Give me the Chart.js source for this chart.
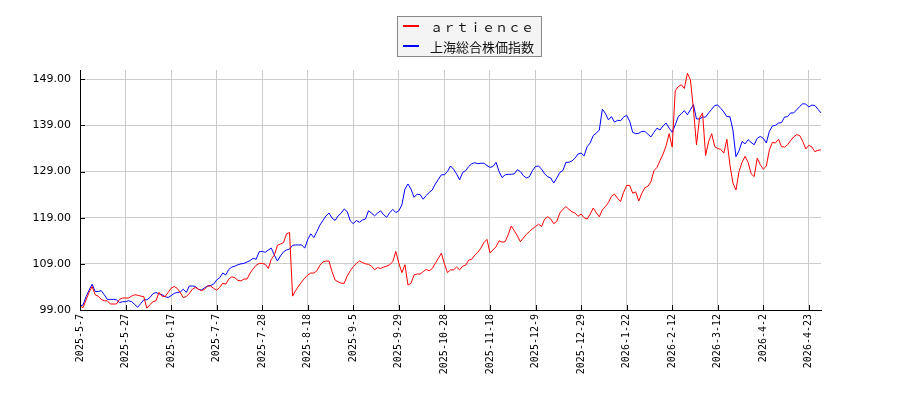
<!DOCTYPE html>
<html>
<head>
<meta charset="utf-8">
<title>artience vs 上海総合株価指数</title>
<script src="https://cdn.jsdelivr.net/npm/chart.js@4.4.1/dist/chart.umd.min.js"></script>
<style>
  html, body { margin: 0; padding: 0; background: #fff; }
  #wrap { width: 900px; height: 400px; }
</style>
</head>
<body>
<div id="wrap"><canvas id="chart" width="900" height="400"></canvas></div>
<script>
// series names (legend)
const seriesNames = ['ａｒｔｉｅｎｃｅ', '上海総合株価指数'];

// x tick labels, one every 15 trading days
const tickDates = ['2025-5-7', '2025-5-27', '2025-6-17', '2025-7-7', '2025-7-28', '2025-8-18',
    '2025-9-5', '2025-9-29', '2025-10-28', '2025-11-18', '2025-12-9', '2025-12-29',
    '2026-1-22', '2026-2-12', '2026-3-12', '2026-4-2', '2026-4-23'];
const tickEvery = 15;

// y axis ticks
const yTicks = [99, 109, 119, 129, 139, 149];

// artience (relative, start = 100)
const artience = [
    99.9, 99.5, 101.2, 102.8, 104.1, 102.3, 102.0, 101.3, 101.0, 101.0,
    100.3, 100.3, 100.3, 101.3, 101.6, 101.6, 101.6, 102.0, 102.3, 102.2,
    102.0, 101.9, 99.4, 100.1, 100.8, 101.0, 102.8, 102.0, 101.9, 102.8,
    103.7, 104.1, 103.7, 102.8, 101.7, 101.9, 102.6, 103.5, 103.9, 103.5,
    103.2, 103.5, 104.2, 104.2, 103.7, 103.3, 103.9, 104.8, 104.6, 105.7,
    106.2, 106.0, 105.4, 105.3, 105.7, 105.7, 107.0, 107.9, 108.7, 109.1,
    109.1, 108.9, 108.0, 110.0, 110.9, 113.0, 113.3, 113.6, 115.5, 115.8,
    102.0, 103.2, 104.2, 105.1, 105.9, 106.6, 107.0, 107.0, 107.5, 108.7,
    109.4, 109.6, 109.6, 107.3, 105.5, 105.1, 104.8, 104.8, 106.4, 107.5,
    108.4, 109.1, 109.6, 109.3, 109.0, 108.9, 108.5, 107.7, 108.2, 108.0,
    108.3, 108.5, 108.8, 109.5, 111.7, 109.1, 107.1, 108.8, 104.4, 104.8,
    106.6, 106.8, 106.8, 107.3, 107.8, 107.5, 108.0, 109.1, 110.2, 111.3,
    109.0, 107.1, 107.7, 107.7, 108.3, 107.7, 108.5, 108.7, 109.8, 110.0,
    110.9, 111.5, 112.4, 113.6, 114.3, 111.4, 112.0, 112.7, 114.0, 113.7,
    113.8, 115.3, 117.2, 116.2, 115.1, 113.8, 114.6, 115.4, 116.0, 116.6,
    117.1, 117.6, 117.1, 118.7, 119.2, 118.7, 117.7, 118.2, 120.0, 120.8,
    121.4, 120.8, 120.3, 120.0, 119.3, 119.8, 119.0, 118.7, 119.8, 121.1,
    120.1, 119.2, 120.7, 121.4, 122.3, 123.6, 124.1, 123.2, 122.5, 124.5,
    126.0, 126.0, 124.3, 124.6, 122.6, 124.3, 125.5, 125.8, 126.8, 129.2,
    129.9, 131.4, 132.8, 134.6, 137.2, 134.3, 146.5, 147.4, 147.8, 147.0,
    150.3, 148.9, 142.5, 134.8, 140.6, 141.7, 132.5, 135.5, 137.2, 134.4,
    134.0, 133.8, 133.0, 136.0, 130.5, 126.5, 125.0, 129.0, 131.0, 132.3,
    131.0, 128.5, 127.9, 131.9, 130.5, 129.5, 130.2, 133.7, 135.3, 135.2,
    136.0, 134.4, 134.3, 134.8, 135.7, 136.5, 137.0, 136.8, 135.5, 133.9,
    134.7, 134.3, 133.3, 133.6, 133.7
];

// Shanghai composite (relative, start = 100)
const shanghai = [
    99.9, 100.1, 101.9, 103.3, 104.6, 103.0, 103.0, 103.2, 102.3, 101.3,
    101.3, 101.3, 101.2, 100.6, 100.8, 100.8, 101.0, 100.8, 100.2, 99.6,
    100.4, 101.2, 101.2, 101.7, 102.5, 102.8, 102.5, 102.3, 101.9, 101.7,
    102.1, 102.6, 102.8, 102.9, 103.5, 102.8, 104.2, 104.2, 104.1, 103.5,
    103.3, 103.8, 104.2, 104.3, 104.6, 105.5, 106.0, 107.0, 106.6, 107.8,
    108.3, 108.5, 108.8, 109.0, 109.1, 109.4, 109.7, 110.2, 110.0, 111.6,
    111.7, 111.5, 112.0, 112.4, 110.9, 109.6, 110.7, 111.6, 112.0, 112.2,
    113.0, 113.1, 113.1, 113.1, 112.4, 114.3, 115.5, 114.7, 116.0, 117.4,
    118.4, 119.4, 120.0, 118.9, 118.4, 119.4, 120.0, 120.9, 120.3, 118.3,
    117.7, 118.4, 118.0, 118.5, 118.7, 120.5, 120.0, 119.4, 120.0, 120.5,
    119.6, 119.1, 120.1, 120.8, 120.1, 120.5, 121.8, 125.2, 126.3, 125.2,
    123.4, 124.1, 124.0, 123.0, 123.8, 124.5, 125.0, 126.3, 127.3, 128.3,
    128.3, 129.0, 130.2, 129.5, 128.5, 127.2, 128.8, 129.2, 130.1, 130.7,
    130.9, 130.7, 130.8, 130.8, 130.3, 129.9, 130.1, 131.0, 129.0, 127.7,
    128.3, 128.4, 128.4, 128.5, 129.4, 129.0, 128.1, 127.6, 127.9, 129.2,
    130.1, 130.2, 129.5, 128.5, 127.9, 127.6, 126.5, 127.6, 128.8, 129.2,
    131.0, 131.0, 131.3, 131.9, 132.8, 133.0, 132.4, 134.4, 135.2, 136.8,
    137.3, 138.0, 142.5, 141.6, 140.2, 140.9, 139.7, 140.1, 140.0, 140.8,
    141.2, 139.9, 137.5, 137.2, 137.3, 137.7, 137.7, 137.1, 136.5, 137.5,
    138.4, 138.0, 138.9, 139.5, 138.4, 137.5, 139.1, 140.9, 141.5, 142.2,
    141.3, 142.4, 143.5, 140.4, 140.4, 140.8, 140.8, 141.7, 142.5, 143.3,
    143.4, 142.7, 141.9, 140.9, 140.9, 138.0, 132.2, 133.5, 135.5, 135.0,
    135.9, 135.3, 134.8, 136.2, 136.6, 136.2, 135.2, 137.7, 138.9, 139.0,
    139.5, 139.6, 140.8, 140.9, 141.7, 141.7, 142.4, 143.1, 143.7, 143.6,
    143.0, 143.4, 143.3, 142.5, 141.7
];

// category labels: a date on every 15th trading day, blank otherwise
const labels = artience.map((v, i) => (i % tickEvery === 0 ? tickDates[i / tickEvery] : ''));

// ticks drawn inside the plot + boxed legend, like the original picture
const innerTicksAndLegend = {
    id: 'innerTicksAndLegend',
    afterDraw(chart) {
        const ctx = chart.ctx;
        const area = chart.chartArea;
        const x = chart.scales.x;
        const y = chart.scales.y;

        ctx.save();
        ctx.strokeStyle = '#000';
        ctx.lineWidth = 1;
        ctx.beginPath();
        y.ticks.forEach(t => {
            const py = Math.round(y.getPixelForValue(t.value)) + 0.5;
            ctx.moveTo(area.left, py);
            ctx.lineTo(area.left + 5, py);
        });
        x.ticks.forEach(t => {
            const px = Math.round(x.getPixelForValue(t.value)) + 0.5;
            ctx.moveTo(px, area.bottom);
            ctx.lineTo(px, area.bottom - 5);
        });
        ctx.stroke();

        // legend box
        ctx.fillStyle = '#f4f4f4';
        ctx.strokeStyle = '#888';
        ctx.fillRect(397.5, 16.5, 144, 40);
        ctx.strokeRect(397.5, 16.5, 144, 40);
        ctx.font = '13px "Noto Sans CJK JP"';
        ctx.textBaseline = 'middle';
        ctx.textAlign = 'left';
        chart.data.datasets.forEach((ds, i) => {
            const ly = 26 + i * 20;
            ctx.strokeStyle = ds.borderColor;
            ctx.lineWidth = 2;
            ctx.beginPath();
            ctx.moveTo(403, ly);
            ctx.lineTo(419, ly);
            ctx.stroke();
            ctx.fillStyle = '#111';
            ctx.fillText(ds.label, 430, ly + 1);
        });
        ctx.restore();
    }
};

new Chart(document.getElementById('chart'), {
    type: 'line',
    data: {
        labels: labels,
        datasets: [{
            label: seriesNames[0],
            data: artience,
            borderColor: '#ff0000',
            borderWidth: 1,
            pointRadius: 0,
            tension: 0
        }, {
            label: seriesNames[1],
            data: shanghai,
            borderColor: '#0000ff',
            borderWidth: 1,
            pointRadius: 0,
            tension: 0
        }]
    },
    options: {
        responsive: false,
        maintainAspectRatio: false,
        animation: false,
        events: [],
        layout: {
            padding: { top: 70, right: 79, bottom: 0, left: 0 }
        },
        plugins: {
            legend: { display: false },
            title: { display: false },
            tooltip: { enabled: false }
        },
        scales: {
            x: {
                type: 'category',
                offset: false,
                afterBuildTicks: scale => {
                    scale.ticks = scale.ticks.filter(t => t.value % tickEvery === 0);
                },
                afterFit: scale => { scale.height = 90; },
                ticks: {
                    autoSkip: false,
                    maxRotation: 90,
                    minRotation: 90,
                    padding: 4,
                    color: '#000',
                    font: { family: 'DejaVu Sans Mono', size: 10 }
                },
                grid: {
                    color: '#cccccc',
                    drawTicks: false
                },
                border: { color: '#000', width: 1 }
            },
            y: {
                min: 99,
                max: 151,
                afterBuildTicks: scale => {
                    scale.ticks = yTicks.map(v => ({ value: v }));
                },
                afterFit: scale => { scale.width = 80; },
                ticks: {
                    padding: 9,
                    color: '#000',
                    font: { family: 'DejaVu Sans', size: 11 },
                    callback: v => Number(v).toFixed(2)
                },
                grid: {
                    color: '#cccccc',
                    drawTicks: false
                },
                border: { color: '#000', width: 1 }
            }
        }
    },
    plugins: [innerTicksAndLegend]
});
</script>
</body>
</html>
